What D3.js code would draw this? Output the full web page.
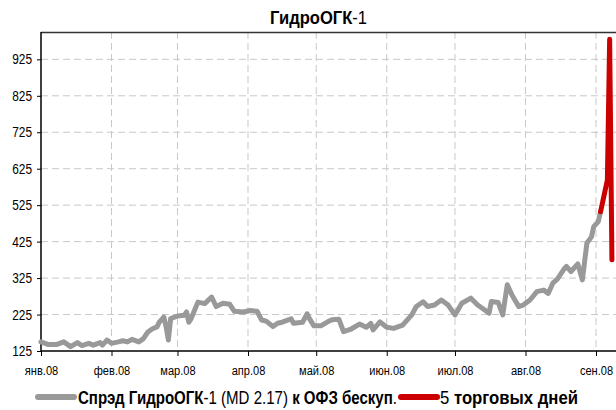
<!DOCTYPE html>
<meta charset="utf-8">
<style>
body { margin: 0; background: #fff; }
svg text { font-family: "Liberation Sans", Arial, sans-serif; fill: #000; }
.grid line { stroke: #c8c8c8; stroke-dasharray: 7,4; stroke-width: 1; }
.axis path, .axis line { stroke: #000; }
</style>
<body>
<svg width="616" height="410"></svg>
<script src="https://d3js.org/d3.v7.min.js"></script>
<script>

// spread, bp
var grayDates = ["01-01","01-04","01-08","01-11","01-14","01-17","01-19","01-22","01-24","01-27","01-28","01-30",
  "02-01","02-04","02-06","02-08","02-10","02-13","02-15","02-17","02-19","02-21","02-22","02-24","02-25","02-26","02-27",
  "03-01","03-04","03-05","03-06","03-07","03-10","03-13","03-16","03-18","03-21","03-24","03-26","03-30",
  "04-02","04-05","04-07","04-09","04-12","04-14","04-16","04-20","04-21","04-25","04-27","04-28","04-30",
  "05-03","05-06","05-08","05-11","05-13","05-16","05-20","05-23","05-25","05-26","05-29",
  "06-01","06-04","06-08","06-12","06-14","06-17","06-19","06-22","06-25","06-28",
  "07-01","07-04","07-08","07-11","07-13","07-16","07-17","07-20","07-22","07-24","07-26","07-29","07-31",
  "08-03","08-06","08-09","08-11","08-13","08-15","08-18","08-19","08-21","08-24","08-26","08-28","08-30","08-31",
  "09-02","09-03"];
var grayValues = [150,143,143,150,137,148,140,146,141,148,141,155,
  146,150,153,150,157,150,159,177,186,191,204,218,191,155,214,
  221,223,232,204,214,259,255,273,247,256,253,234,232,
  236,234,210,207,192,201,204,213,201,204,227,214,194,
  194,205,211,212,178,184,199,190,201,183,205,
  190,187,196,224,247,260,247,251,265,251,
  224,256,270,251,242,229,261,258,224,307,279,247,251,
  265,288,292,283,311,322,350,357,343,364,320,421,438,466,
  480,507];

var redDates = ["09-03","09-06","09-07","09-08"];
var redValues = [507,594,980,375];

var yTicks = [125,225,325,425,525,625,725,825,925];
var monthLabels = ["янв.08","фев.08","мар.08","апр.08","май.08","июн.08","июл.08","авг.08","сен.08"];

var svg = d3.select("svg");
var parse = d3.timeParse("%Y-%m-%d");
function toPoints(dates, vals) {
  return dates.map(function(d, i) { return { date: parse("2008-" + d), v: vals[i] }; });
}
var gray = toPoints(grayDates, grayValues);
var red = toPoints(redDates, redValues);

// narrow look: squeeze the tick text horizontally
var sx = 0.82;

var plotL = 41, plotT = 32, plotB = 351;
var x = d3.scaleTime()
    .domain([new Date(2008, 0, 1), new Date(2008, 8, 1)])
    .range([plotL, 596]);
var y = d3.scaleLinear().domain([125, 1000]).range([plotB, plotT]);

var months = d3.range(9).map(function(m) { return new Date(2008, m, 1); });

// grid
var grid = svg.append("g").attr("class", "grid");
grid.selectAll("line.h").data(yTicks.slice(1)).enter().append("line")
    .attr("x1", plotL).attr("x2", 616)
    .attr("y1", function(d) { return y(d); }).attr("y2", function(d) { return y(d); });
grid.selectAll("line.v").data(months.slice(1)).enter().append("line")
    .attr("x1", function(d) { return x(d); }).attr("x2", function(d) { return x(d); })
    .attr("y1", plotT).attr("y2", plotB);

// top border
svg.append("line").attr("x1", plotL).attr("x2", 616).attr("y1", plotT + 0.5).attr("y2", plotT + 0.5)
    .attr("stroke", "#333").attr("stroke-width", 1.5);

// axes
var yAxis = svg.append("g").attr("class", "axis")
    .attr("transform", "translate(" + plotL + ",0)")
    .call(d3.axisLeft(y).tickValues(yTicks).tickSize(4).tickPadding(5));
yAxis.select(".domain").attr("d", "M0," + plotT + "V" + plotB).attr("stroke-width", 1.5);
yAxis.selectAll("text").style("font-size", "14.5px")
    .attr("x", -9 / sx).attr("transform", "scale(" + sx + ",1)");

var xAxis = svg.append("g").attr("class", "axis")
    .attr("transform", "translate(0," + plotB + ")")
    .call(d3.axisBottom(x).tickValues(months).tickSize(5).tickPadding(9)
      .tickFormat(function(d, i) { return monthLabels[i]; }));
xAxis.select(".domain").attr("d", "M" + plotL + ",0H616").attr("stroke-width", 1.5);
xAxis.selectAll("text").style("font-size", "13.5px").attr("transform", "scale(" + sx + ",1)");

var line = d3.line()
    .x(function(d) { return x(d.date); })
    .y(function(d) { return y(d.v); });

svg.append("path").datum(gray)
    .attr("d", line).attr("fill", "none")
    .attr("stroke", "#999999").attr("stroke-width", 5)
    .attr("stroke-linejoin", "round").attr("stroke-linecap", "round");

svg.append("path").datum(red)
    .attr("d", line).attr("fill", "none")
    .attr("stroke", "#cc0000").attr("stroke-width", 5)
    .attr("stroke-linejoin", "round").attr("stroke-linecap", "round");

// title
var title = svg.append("text").attr("x", 270).attr("y", 24)
    .attr("textLength", 97).attr("lengthAdjust", "spacingAndGlyphs")
    .style("font-size", "18px");
title.append("tspan").attr("font-weight", "bold").text("ГидроОГК");
title.append("tspan").text("-1");

// legend
var lg = svg.append("g").attr("transform", "translate(0,397)");
lg.append("line").attr("x1", 38).attr("x2", 74).attr("y1", 0).attr("y2", 0)
    .attr("stroke", "#999999").attr("stroke-width", 6).attr("stroke-linecap", "round");
var t1 = lg.append("text").attr("x", 78).attr("y", 6.5)
    .attr("textLength", 319).attr("lengthAdjust", "spacingAndGlyphs")
    .style("font-size", "18.5px");
t1.append("tspan").attr("font-weight", "bold").text("Спрэд ГидроОГК");
t1.append("tspan").text("-1 (MD 2.17) ");
t1.append("tspan").attr("font-weight", "bold").text("к ОФЗ бескуп");
t1.append("tspan").text(".");

lg.append("line").attr("x1", 401).attr("x2", 437).attr("y1", 0).attr("y2", 0)
    .attr("stroke", "#cc0000").attr("stroke-width", 6).attr("stroke-linecap", "round");
var t2 = lg.append("text").attr("x", 440).attr("y", 6.5)
    .attr("textLength", 138).attr("lengthAdjust", "spacingAndGlyphs")
    .style("font-size", "18.5px");
t2.append("tspan").text("5 ");
t2.append("tspan").attr("font-weight", "bold").text("торговых дней");

</script>
</body>
